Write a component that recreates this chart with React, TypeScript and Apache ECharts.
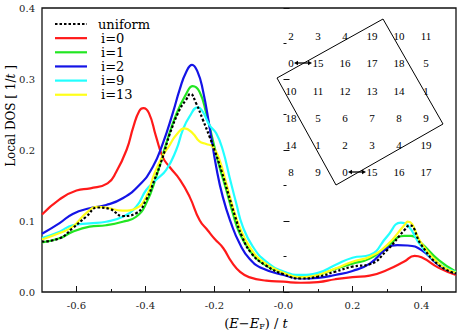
import React, { useEffect, useRef } from "react";
import * as echarts from "echarts";

const SERIES_NAMES = ["uniform", "i=0", "i=1", "i=2", "i=9", "i=13"];

const uniform_x = [-0.7,-0.649,-0.611,-0.572,-0.538,-0.504,-0.466,-0.427,-0.398,-0.374,-0.35,-0.33,-0.301,-0.282,-0.27,-0.2535,-0.234,-0.2145,-0.2,-0.18,-0.16,-0.14,-0.12,-0.092,-0.053,0,0.05,0.1,0.15,0.2,0.25,0.3,0.35,0.365,0.4,0.45,0.5];
const uniform_y = [0.071,0.0756,0.09,0.106,0.119,0.117,0.107,0.111,0.13,0.158,0.19,0.222,0.257,0.271,0.279,0.266,0.243,0.219,0.2,0.171,0.138,0.106,0.078,0.054,0.038,0.025,0.019,0.0216,0.0286,0.0357,0.039,0.059,0.087,0.094,0.066,0.038,0.026];

const i0_x = [-0.7,-0.65,-0.6,-0.56,-0.51,-0.485,-0.455,-0.435,-0.418,-0.406,-0.39,-0.37,-0.35,-0.33,-0.3,-0.272,-0.243,-0.22,-0.2,-0.175,-0.15,-0.125,-0.1,-0.05,0,0.05,0.1,0.15,0.2,0.25,0.3,0.35,0.38,0.4,0.45,0.5];
const i0_y = [0.109,0.13,0.143,0.146,0.153,0.169,0.2,0.233,0.255,0.259,0.252,0.22,0.19,0.176,0.158,0.134,0.101,0.087,0.075,0.062,0.042,0.028,0.021,0.016,0.0145,0.013,0.014,0.018,0.021,0.023,0.031,0.043,0.051,0.049,0.034,0.024];

const i1_x = [-0.7,-0.649,-0.611,-0.562,-0.514,-0.466,-0.427,-0.398,-0.369,-0.34,-0.311,-0.282,-0.263,-0.2435,-0.224,-0.205,-0.1855,-0.166,-0.147,-0.1275,-0.0986,-0.06,0,0.05,0.1,0.15,0.2,0.25,0.3,0.35,0.37,0.4,0.45,0.5];
const i1_y = [0.07,0.0756,0.085,0.092,0.094,0.099,0.106,0.125,0.162,0.209,0.25,0.279,0.29,0.282,0.252,0.214,0.176,0.144,0.111,0.083,0.059,0.04,0.027,0.0216,0.024,0.0324,0.04,0.047,0.064,0.079,0.079,0.0686,0.045,0.0286];

const i2_x = [-0.7,-0.649,-0.611,-0.562,-0.514,-0.466,-0.417,-0.379,-0.35,-0.321,-0.301,-0.282,-0.265,-0.249,-0.234,-0.2145,-0.195,-0.176,-0.152,-0.1275,-0.0986,-0.06,0,0.05,0.1,0.15,0.2,0.25,0.3,0.33,0.36,0.4,0.45,0.5];
const i2_y = [0.082,0.097,0.11,0.118,0.1225,0.132,0.151,0.176,0.209,0.252,0.285,0.31,0.32,0.31,0.285,0.233,0.176,0.134,0.097,0.0686,0.047,0.033,0.024,0.019,0.02,0.024,0.0296,0.04,0.0615,0.066,0.0655,0.059,0.038,0.026];

const i9_x = [-0.7,-0.649,-0.611,-0.562,-0.514,-0.466,-0.427,-0.398,-0.369,-0.34,-0.311,-0.292,-0.2725,-0.2484,-0.234,-0.2145,-0.195,-0.176,-0.1565,-0.137,-0.118,-0.089,-0.05,0,0.05,0.1,0.15,0.2,0.25,0.3,0.34,0.36,0.4,0.45,0.5];
const i9_y = [0.076,0.085,0.094,0.0967,0.099,0.106,0.12,0.1437,0.158,0.172,0.2,0.228,0.247,0.26,0.254,0.235,0.2235,0.2,0.162,0.125,0.092,0.064,0.0427,0.029,0.024,0.027,0.038,0.0483,0.052,0.078,0.0976,0.094,0.064,0.04,0.028];

const i13_x = [-0.7,-0.649,-0.611,-0.572,-0.538,-0.514,-0.466,-0.427,-0.398,-0.374,-0.35,-0.33,-0.311,-0.287,-0.263,-0.2435,-0.224,-0.205,-0.1855,-0.166,-0.147,-0.1275,-0.0986,-0.06,0,0.05,0.1,0.15,0.2,0.25,0.3,0.35,0.36,0.4,0.45,0.5];
const i13_y = [0.074,0.083,0.092,0.111,0.12,0.119,0.1145,0.118,0.134,0.167,0.192,0.207,0.221,0.2305,0.2235,0.212,0.2085,0.2046,0.186,0.153,0.12,0.092,0.064,0.0427,0.027,0.0207,0.024,0.033,0.0427,0.0497,0.066,0.094,0.099,0.0686,0.04,0.027];

const X_TICKS = [-0.6, -0.4, -0.2, 0, 0.2, 0.4];
const X_MINOR_TICKS = [-0.5, -0.3, -0.1, 0.1, 0.3];

const INSET_ROWS = [
  ["2", "3", "4", "19", "10", "11"],
  ["0", "15", "16", "17", "18", "5"],
  ["10", "11", "12", "13", "14", "1"],
  ["18", "5", "6", "7", "8", "9"],
  ["14", "1", "2", "3", "4", "19"],
  ["8", "9", "0", "15", "16", "17"],
];

const COLORS = ["#000000", "#ff1a1a", "#22e622", "#1414e6", "#22ffff", "#ffff1a"];
const DOTTED = [2.5, 2];

function pairs(xs: number[], ys: number[]) {
  return xs.map((x, k) => [x, ys[k]]);
}

function arrow(x1: number, x2: number, y: number) {
  const h = 4, w = 2.2;
  return [
    { type: "line", shape: { x1: x1 + 2, y1: y, x2: x2 - 2, y2: y }, style: { stroke: "#000", lineWidth: 1.3 } },
    { type: "polygon", shape: { points: [[x1, y], [x1 + h, y - w], [x1 + h, y + w]] }, style: { fill: "#000" } },
    { type: "polygon", shape: { points: [[x2, y], [x2 - h, y - w], [x2 - h, y + w]] }, style: { fill: "#000" } },
  ];
}

export default function App() {
  const ref = useRef<HTMLDivElement>(null);
  useEffect(() => {
    if (!ref.current) return;
    const chart = echarts.init(ref.current, undefined, { renderer: "svg" });
    const seriesData = [
      pairs(uniform_x, uniform_y),
      pairs(i0_x, i0_y),
      pairs(i1_x, i1_y),
      pairs(i2_x, i2_y),
      pairs(i9_x, i9_y),
      pairs(i13_x, i13_y),
    ];
    const order = [1, 2, 3, 4, 5, 0];
    const series = order.map((k) => ({
      name: SERIES_NAMES[k],
      type: "line",
      data: seriesData[k],
      showSymbol: false,
      symbol: "none",
      smooth: 0.5,
      z: k === 0 ? 10 : 2 + k,
      lineStyle: {
        color: COLORS[k],
        width: 2.2,
        type: k === 0 ? DOTTED : "solid",
      },
      itemStyle: { color: COLORS[k] },
    }));

    const legendEls: any[] = [];
    SERIES_NAMES.forEach((name, k) => {
      const y = 24 + 14.15 * k;
      legendEls.push({
        type: "line",
        z: 25,
        shape: { x1: 55, y1: y, x2: 87, y2: y },
        style: { stroke: COLORS[k], lineWidth: 2.2, lineDash: k === 0 ? DOTTED : null },
      });
      legendEls.push({
        type: "text",
        z: 25,
        x: k === 0 ? 98 : 101,
        y,
        style: {
          text: name,
          font: "13px 'DejaVu Serif'",
          fill: "#000",
          align: "left",
          verticalAlign: "middle",
        },
      });
    });

    const colX = [291, 318, 345, 372, 399, 426];
    const rowY = [36, 63, 91, 118, 145, 172];
    const insetTexts: any[] = [];
    INSET_ROWS.forEach((row, r) => {
      row.forEach((t, c) => {
        insetTexts.push({
          type: "text",
          x: colX[c],
          y: rowY[r],
          z: 21,
          style: {
            text: t,
            font: "11px 'Liberation Serif'",
            fill: "#000",
            align: "center",
            verticalAlign: "middle",
          },
        });
      });
    });

    const serif = "'DejaVu Serif'";
    chart.setOption({
      animation: false,
      grid: { left: 42, right: 2, top: 8, bottom: 41, show: true, borderColor: "#111", borderWidth: 1.3, backgroundColor: "transparent" },
      xAxis: [
        {
          type: "value",
          min: -0.7,
          max: 0.5,
          interval: 0.1,
          axisLine: { show: false },
          splitLine: { show: false },
          axisTick: { inside: true, length: 6, customValues: X_TICKS, lineStyle: { color: "#111" } },
          axisLabel: {
            customValues: X_TICKS,
            margin: 8,
            fontFamily: serif,
            fontSize: 10,
            color: "#222",
            formatter: (v: number) => (Math.abs(v) < 1e-9 ? "-0.0" : v.toFixed(1)),
          },
        },
        {
          type: "value",
          position: "bottom",
          min: -0.7,
          max: 0.5,
          interval: 0.1,
          axisLine: { show: false },
          splitLine: { show: false },
          axisTick: { inside: true, length: 3, customValues: X_MINOR_TICKS, lineStyle: { color: "#111" } },
          axisLabel: { show: false },
        },
      ],
      yAxis: {
        type: "value",
        min: 0,
        max: 0.4,
        interval: 0.1,
        axisLine: { show: false },
        splitLine: { show: false },
        axisTick: { inside: true, length: 6, lineStyle: { color: "#111" } },
        minorTick: { show: true, splitNumber: 2, length: 3, lineStyle: { color: "#111" } },
        minorSplitLine: { show: false },
        axisLabel: {
          margin: 7,
          fontFamily: serif,
          fontSize: 10,
          color: "#222",
          formatter: (v: number) => v.toFixed(1),
        },
      },
      series,
      graphic: [
        {
          type: "polygon",
          shape: { points: [[383, 19], [443, 124], [336, 185], [277, 78]] },
          style: { fill: "none", stroke: "#000", lineWidth: 1 },
          z: 20,
        },
        ...insetTexts,
        ...arrow(294, 312, 63).map((e) => ({ ...e, z: 22 })),
        ...arrow(348, 366, 172).map((e) => ({ ...e, z: 22 })),
        ...legendEls,
        {
          type: "text",
          x: 256,
          y: 323,
          z: 30,
          style: {
            text: "({i|E}−{i|E}{s|F}) / {i|t}",
            font: "13px 'DejaVu Serif'",
            fill: "#000",
            align: "center",
            verticalAlign: "middle",
            rich: {
              i: { fontStyle: "italic", fontFamily: "DejaVu Serif", fontSize: 13 },
              s: { fontFamily: "DejaVu Serif", fontSize: 8, padding: [7, 0, 0, 0] },
            },
          },
        },
        {
          type: "text",
          x: 11,
          y: 116,
          rotation: Math.PI / 2,
          z: 30,
          style: {
            text: "Local DOS [ 1/{i|t} ]",
            font: "12px 'DejaVu Serif'",
            fill: "#000",
            align: "center",
            verticalAlign: "middle",
            rich: {
              i: { fontStyle: "italic", fontFamily: "DejaVu Serif", fontSize: 12 },
            },
          },
        },
      ],
    });
    return () => chart.dispose();
  }, []);
  return <div ref={ref} style={{ width: 458, height: 333, position: "absolute", left: 0, top: 0 }} />;
}
